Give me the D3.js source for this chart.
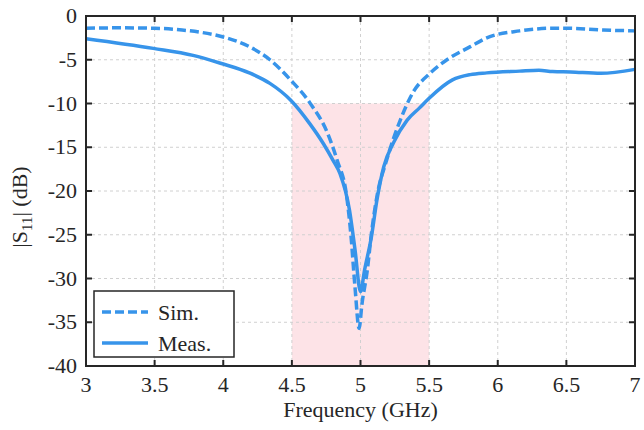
<html>
<head>
<script src="https://d3js.org/d3.v7.min.js"></script>
</head>
<body style="margin:0">
<svg id="chart" width="644" height="430"></svg>
<script>
// frequency (GHz) and |S11| (dB)
var simFreq = [3.0, 3.25, 3.5, 3.7, 3.83, 4.0, 4.19, 4.34, 4.49, 4.63, 4.76, 4.83, 4.9, 4.93, 4.96, 4.99, 5.01, 5.05, 5.08, 5.12, 5.19, 5.29, 5.38, 5.51, 5.63, 5.8, 5.92, 6.16, 6.4, 6.5, 6.77, 7.0];
var simS11 = [-1.4, -1.35, -1.4, -1.6, -1.85, -2.4, -3.5, -5.0, -7.3, -9.9, -13.4, -16.5, -20.7, -25.0, -31.0, -35.7, -33.0, -29.0, -24.8, -20.6, -16.5, -11.9, -8.8, -6.5, -5.0, -3.5, -2.5, -1.7, -1.4, -1.4, -1.6, -1.7];

var measFreq = [3.0, 3.49, 3.78, 3.98, 4.19, 4.34, 4.49, 4.63, 4.73, 4.8, 4.85, 4.92, 4.96, 5.0, 5.03, 5.08, 5.12, 5.17, 5.24, 5.34, 5.43, 5.5, 5.67, 5.8, 5.92, 6.16, 6.3, 6.4, 6.53, 6.75, 7.0];
var measS11 = [-2.6, -3.7, -4.5, -5.4, -6.5, -7.7, -9.6, -12.3, -14.6, -16.5, -18.0, -22.2, -26.7, -31.5, -29.0, -25.2, -21.0, -17.2, -14.5, -11.9, -10.5, -9.4, -7.3, -6.7, -6.5, -6.3, -6.2, -6.35, -6.4, -6.55, -6.1];

var xTicks = [3, 3.5, 4, 4.5, 5, 5.5, 6, 6.5, 7];
var yTicks = [0, -5, -10, -15, -20, -25, -30, -35, -40];
var band = [4.5, 5.5, -10, -40];

var margin = {left: 86, right: 9, top: 16, bottom: 64};
var W = 644, H = 430;
var svg = d3.select("#chart");

function serif(sel) {
  return sel.style("font-family", "'Liberation Serif', 'Times New Roman', serif").attr("fill", "#262626");
}

var x = d3.scaleLinear().domain([3, 7]).range([margin.left, W - margin.right]);
var y = d3.scaleLinear().domain([-40, 0]).range([H - margin.bottom, margin.top]);

// shaded band
svg.append("rect")
  .attr("x", x(band[0])).attr("y", y(band[2]))
  .attr("width", x(band[1]) - x(band[0]))
  .attr("height", y(band[3]) - y(band[2]))
  .attr("fill", "#fde3e7");

// grid
var grid = svg.append("g")
  .attr("stroke", "#d0d0d0").attr("stroke-width", 1).attr("stroke-dasharray", "3,3");
grid.selectAll(".gx").data(xTicks.slice(1, -1)).enter().append("line")
  .attr("x1", x).attr("x2", x).attr("y1", y(0)).attr("y2", y(-40));
grid.selectAll(".gy").data(yTicks.slice(1, -1)).enter().append("line")
  .attr("x1", x(3)).attr("x2", x(7)).attr("y1", y).attr("y2", y);

// curves
var line = d3.line().x(function(d){ return x(d[0]); }).y(function(d){ return y(d[1]); }).curve(d3.curveMonotoneX);
var sim = d3.zip(simFreq, simS11);
var meas = d3.zip(measFreq, measS11);
var blue = "#3794ea";

svg.append("path").datum(meas).attr("d", line)
  .attr("fill", "none").attr("stroke", blue).attr("stroke-width", 3.5);
svg.append("path").datum(sim).attr("d", line)
  .attr("fill", "none").attr("stroke", blue).attr("stroke-width", 3.5)
  .attr("stroke-dasharray", "9,4");

// ticks inside on all four sides
var tickG = svg.append("g").attr("stroke", "#262626").attr("stroke-width", 2);
xTicks.forEach(function(t){
  tickG.append("line").attr("x1", x(t)).attr("x2", x(t)).attr("y1", y(-40)).attr("y2", y(-40) - 6);
  tickG.append("line").attr("x1", x(t)).attr("x2", x(t)).attr("y1", y(0)).attr("y2", y(0) + 6);
});
yTicks.forEach(function(t){
  tickG.append("line").attr("x1", x(3)).attr("x2", x(3) + 6).attr("y1", y(t)).attr("y2", y(t));
  tickG.append("line").attr("x1", x(7)).attr("x2", x(7) - 6).attr("y1", y(t)).attr("y2", y(t));
});

serif(svg.selectAll(".xl").data(xTicks).enter().append("text"))
  .attr("x", x).attr("y", y(-40) + 26)
  .attr("text-anchor", "middle").attr("font-size", 22)
  .text(function(d){ return String(d); });
serif(svg.selectAll(".yl").data(yTicks).enter().append("text"))
  .attr("x", x(3) - 9).attr("y", function(d){ return y(d) + 7; })
  .attr("text-anchor", "end").attr("font-size", 22)
  .text(function(d){ return String(d); });

svg.append("rect")
  .attr("x", x(3)).attr("y", y(0))
  .attr("width", x(7) - x(3)).attr("height", y(-40) - y(0))
  .attr("fill", "none").attr("stroke", "#262626").attr("stroke-width", 2);

// axis titles
serif(svg.append("text"))
  .attr("x", (x(3) + x(7)) / 2).attr("y", 417)
  .attr("text-anchor", "middle").attr("font-size", 22)
  .text("Frequency (GHz)");

var yl = serif(svg.append("text"))
  .attr("transform", "translate(27," + 207 + ") rotate(-90)")
  .attr("text-anchor", "middle").attr("font-size", 22);
yl.append("tspan").text("|S");
yl.append("tspan").attr("font-size", 15).attr("dy", 5).text("11");
yl.append("tspan").attr("dy", -5).text("| (dB)");

// legend
var lg = svg.append("g");
lg.append("rect").attr("x", 94).attr("y", 291).attr("width", 140).attr("height", 66)
  .attr("fill", "#fff").attr("stroke", "#262626").attr("stroke-width", 1.5);
var legendItems = [["Sim.", "9,4", 312], ["Meas.", null, 343]];
legendItems.forEach(function(it){
  lg.append("line").attr("x1", 102).attr("x2", 148).attr("y1", it[2]).attr("y2", it[2])
    .attr("stroke", blue).attr("stroke-width", 3.5)
    .attr("stroke-dasharray", it[1]);
  serif(lg.append("text")).attr("x", 158).attr("y", it[2] + 8).attr("font-size", 22).text(it[0]);
});
</script>
</body>
</html>
